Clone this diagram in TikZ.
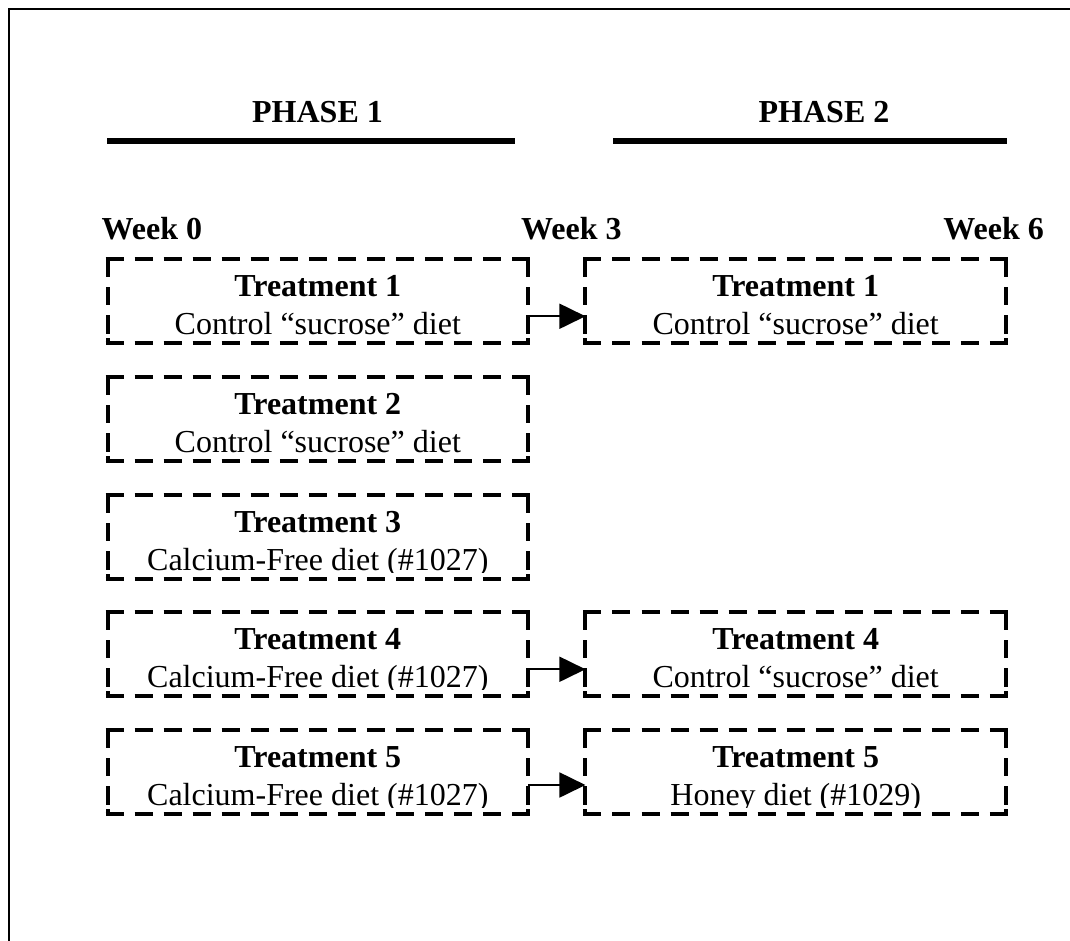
\documentclass[tikz,border=0pt]{standalone}
\usepackage{fontspec}
\setmainfont{Liberation Serif}
\usetikzlibrary{arrows.meta}
\tikzset{
  boxnode/.style={rectangle, minimum width=420.5pt, minimum height=84pt, inner sep=0pt, outer sep=0pt},
  hside/.style={line width=4pt, dash pattern=on 18pt off 11.036pt},
  vside/.style={line width=4pt, dash pattern=on 20pt off 10pt on 18pt off 10pt on 19pt off 4pt on 7pt off 50pt},
  titletxt/.style={anchor=base, inner sep=0pt, font=\fontsize{32pt}{38pt}\selectfont\bfseries},
  diettxt/.style={anchor=base, inner sep=0pt, font=\fontsize{32pt}{38pt}\selectfont},
  headtxt/.style={inner sep=0pt, font=\fontsize{32pt}{38pt}\selectfont\bfseries},
  phaseline/.style={line width=6pt},
  framestyle/.style={line width=2.3pt},
  arr/.style={line width=1.8pt, -{Triangle[length=26pt,width=25pt]}},
}
\newcommand\dbx[1]{%
  \draw[hside] ([xshift=-2pt]#1.north west) -- ([xshift=2pt]#1.north east);
  \draw[hside] ([xshift=-2pt]#1.south west) -- ([xshift=2pt]#1.south east);
  \draw[vside] ([yshift=2pt]#1.north west) -- ([yshift=-2pt]#1.south west);
  \draw[vside] ([yshift=2pt]#1.north east) -- ([yshift=-2pt]#1.south east);
}
\newcommand\boxtext[3]{%
  \begin{scope}
    \clip ([xshift=-5pt]#1.north west) rectangle ([xshift=5pt,yshift=6.5pt]#1.south east);
    \node[titletxt] (#1t) at ([yshift=-37.5pt]#1.north) {#2};
    \node[diettxt] (#1d) at ([yshift=-75.5pt]#1.north) {#3};
  \end{scope}
}
\begin{document}
\begin{tikzpicture}[x=1pt,y=-1pt]
  \useasboundingbox (0,0) rectangle (1070,940);
  \clip (0,0) rectangle (1070,940);
  \draw[framestyle] (9,9) rectangle (1200,1100);

  % phase headers
  \node[headtxt, anchor=base] (ph1) at (317.5,122) {PHASE 1};
  \node[headtxt, anchor=base] (ph2) at (824,122) {PHASE 2};
  \coordinate (p1a) at (107,141);
  \coordinate (p1b) at (515,141);
  \coordinate (p2a) at (613,141);
  \coordinate (p2b) at (1007,141);
  \draw[phaseline] (p1a) -- (p1b);
  \draw[phaseline] (p2a) -- (p2b);

  % week labels
  \node[headtxt, anchor=base west] (w0) at (101.5,239) {Week 0};
  \node[headtxt, anchor=base west] (w3) at (521,239) {Week 3};
  \node[headtxt, anchor=base east] (w6) at (1044,239) {Week 6};

  % boxes
  \node[boxnode] (L1) at (317.8,301.25) {};
  \node[boxnode] (L2) at (317.8,419.25) {};
  \node[boxnode] (L3) at (317.8,537) {};
  \node[boxnode] (L4) at (317.8,654.25) {};
  \node[boxnode] (L5) at (317.8,772) {};
  \node[boxnode] (R1) at (795.7,301.25) {};
  \node[boxnode] (R4) at (795.7,654.25) {};
  \node[boxnode] (R5) at (795.7,772) {};

  \boxtext{L1}{Treatment 1}{Control “sucrose” diet}
  \boxtext{L2}{Treatment 2}{Control “sucrose” diet}
  \boxtext{L3}{Treatment 3}{Calcium-Free diet (\#1027)}
  \boxtext{L4}{Treatment 4}{Calcium-Free diet (\#1027)}
  \boxtext{L5}{Treatment 5}{Calcium-Free diet (\#1027)}
  \boxtext{R1}{Treatment 1}{Control “sucrose” diet}
  \boxtext{R4}{Treatment 4}{Control “sucrose” diet}
  \boxtext{R5}{Treatment 5}{Honey diet (\#1029)}

  \dbx{L1}\dbx{L2}\dbx{L3}\dbx{L4}\dbx{L5}
  \dbx{R1}\dbx{R4}\dbx{R5}

  % arrows
  \draw[arr] ([yshift=-15pt]L1.east) -- ([yshift=-15pt]R1.west);
  \draw[arr] ([yshift=-15pt]L4.east) -- ([yshift=-15pt]R4.west);
  \draw[arr] ([yshift=-13pt]L5.east) -- ([yshift=-13pt]R5.west);
\end{tikzpicture}
\end{document}
